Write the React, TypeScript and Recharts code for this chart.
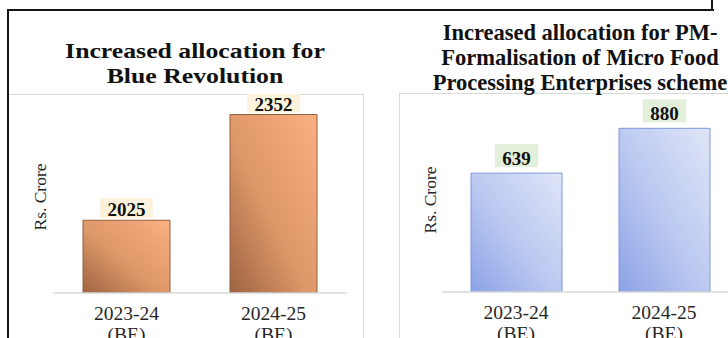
import { BarChart, Bar, XAxis, YAxis, LabelList } from "recharts";

// Budget allocations, Rs. crore
const periods = ["2023-24", "2024-25"];
const periodNote = "(BE)";
const blueRevolution = [2025, 2352];
const pmfmeScheme = [639, 880];

const axisTitle = "Rs. Crore";
const blueTitle = ["Increased allocation for", "Blue Revolution"];
const pmfmeTitle = [
  "Increased allocation for PM-",
  "Formalisation of Micro Food",
  "Processing Enterprises scheme",
];

const SERIF = '"Liberation Serif", "Times New Roman", serif';

const toRows = (values: number[]) =>
  periods.map((period, i) => ({ period, value: values[i] }));

const PeriodTick = (props: any) => {
  const { x, y, payload } = props;
  return (
    <text x={x} y={y} textAnchor="middle" fontFamily={SERIF} fontSize={19.5} fill="#262626">
      <tspan x={x} dy={18.5}>{payload.value}</tspan>
      <tspan x={x} dy={21.5}>{periodNote}</tspan>
    </text>
  );
};

interface TagStyle {
  bg: string;
  lift: number;
  height: number;
}

const makeValueTag = ({ bg, lift, height }: TagStyle) => (props: any) => {
  const { x, y, width, value } = props;
  const cx = Number(x) + Number(width) / 2;
  const baseline = Number(y) - lift;
  const w = String(value).length * 9.5 + 15;
  return (
    <g>
      <rect x={cx - w / 2} y={baseline + 2 - height} width={w} height={height} fill={bg} />
      <text
        x={cx}
        y={baseline}
        textAnchor="middle"
        fontFamily={SERIF}
        fontWeight="bold"
        fontSize={19}
        fill="#111"
      >
        {value}
      </text>
    </g>
  );
};

interface AllocationChartProps {
  values: number[];
  domain: [number, number];
  gradientId: string;
  stops: [string, string, string];
  stroke: string;
  tag: TagStyle;
  barSize: number;
  width: number;
  height: number;
  margin: { top: number; right: number; bottom: number; left: number };
  axisHeight: number;
}

function AllocationChart({
  values,
  domain,
  gradientId,
  stops,
  stroke,
  tag,
  barSize,
  width,
  height,
  margin,
  axisHeight,
}: AllocationChartProps) {
  return (
    <BarChart width={width} height={height} data={toRows(values)} margin={margin}>
      <defs>
        <linearGradient id={gradientId} x1="0" y1="1" x2="1" y2="0">
          <stop offset="0%" stopColor={stops[0]} />
          <stop offset="45%" stopColor={stops[1]} />
          <stop offset="100%" stopColor={stops[2]} />
        </linearGradient>
      </defs>
      <XAxis
        dataKey="period"
        height={axisHeight}
        axisLine={{ stroke: "#d9d9d9", strokeWidth: 1.5 }}
        tickLine={false}
        tick={<PeriodTick />}
        interval={0}
      />
      <YAxis domain={domain} hide width={0} allowDataOverflow />
      <Bar
        dataKey="value"
        fill={`url(#${gradientId})`}
        stroke={stroke}
        strokeWidth={1}
        barSize={barSize}
        isAnimationActive={false}
      >
        <LabelList dataKey="value" content={makeValueTag(tag)} />
      </Bar>
    </BarChart>
  );
}

// rotated value-axis caption beside each plot
const AxisCaption = ({ cx, cy }: { cx: number; cy: number }) => (
  <div
    style={{
      position: "absolute",
      left: cx,
      top: cy,
      transform: "translate(-50%, -50%) rotate(-90deg)",
      fontFamily: SERIF,
      fontSize: 17.5,
      color: "#262626",
      whiteSpace: "nowrap",
      lineHeight: "20px",
    }}
  >
    {axisTitle}
  </div>
);

const titleStyle: React.CSSProperties = {
  position: "absolute",
  textAlign: "center",
  fontFamily: SERIF,
  fontWeight: "bold",
  color: "#111",
  lineHeight: "25px",
  whiteSpace: "nowrap",
};

export default function App() {
  return (
    <div
      style={{
        position: "absolute",
        left: 0,
        top: 0,
        width: 728,
        height: 338,
        overflow: "hidden",
        background: "#fff",
      }}
    >
      {/* outer frame */}
      <div
        style={{
          position: "absolute",
          left: 7,
          top: 9,
          width: 705,
          height: 340,
          borderTop: "2px solid #161616",
          borderLeft: "2px solid #161616",
        }}
      />
      <div
        style={{ position: "absolute", left: 711, top: 0, width: 2, height: 10, background: "#161616" }}
      />

      {/* panel boxes */}
      <div
        style={{
          position: "absolute",
          left: 9,
          top: 94,
          width: 354,
          height: 260,
          borderTop: "1.5px solid #dadada",
          borderRight: "1.5px solid #dadada",
        }}
      />
      <div
        style={{
          position: "absolute",
          left: 399,
          top: 93,
          width: 360,
          height: 260,
          borderTop: "1.5px solid #dadada",
          borderLeft: "1.5px solid #dadada",
        }}
      />

      <div
        style={{
          ...titleStyle,
          left: 0,
          top: 37.5,
          width: 390,
          fontSize: 22,
          transform: "scaleX(1.17)",
          transformOrigin: "195px 0",
        }}
      >
        {blueTitle.map((line) => (
          <div key={line}>{line}</div>
        ))}
      </div>
      <div style={{ ...titleStyle, left: 380, top: 19.5, width: 400, fontSize: 22.5 }}>
        {pmfmeTitle.map((line) => (
          <div key={line}>{line}</div>
        ))}
      </div>

      <div style={{ position: "absolute", left: 0, top: 94 }}>
        <AllocationChart
          values={blueRevolution}
          domain={[1800, 2400]}
          gradientId="blueRevolutionFill"
          stops={["#9e6442", "#de9768", "#f9b083"]}
          stroke="#94603c"
          tag={{ bg: "#fdf3dc", lift: 4, height: 20 }}
          barSize={87}
          width={366}
          height={244}
          margin={{ top: 5, right: 19, bottom: 0, left: 53 }}
          axisHeight={45}
        />
      </div>
      <div style={{ position: "absolute", left: 390, top: 94 }}>
        <AllocationChart
          values={pmfmeScheme}
          domain={[0, 1000]}
          gradientId="pmfmeFill"
          stops={["#8ca2e6", "#b9c7f0", "#e0e6f8"]}
          stroke="#7d97dc"
          tag={{ bg: "#e2efda", lift: 8, height: 23 }}
          barSize={91}
          width={360}
          height={244}
          margin={{ top: 12, right: 12, bottom: 0, left: 52 }}
          axisHeight={46}
        />
      </div>

      <AxisCaption cx={40} cy={197} />
      <AxisCaption cx={430} cy={200} />
    </div>
  );
}
